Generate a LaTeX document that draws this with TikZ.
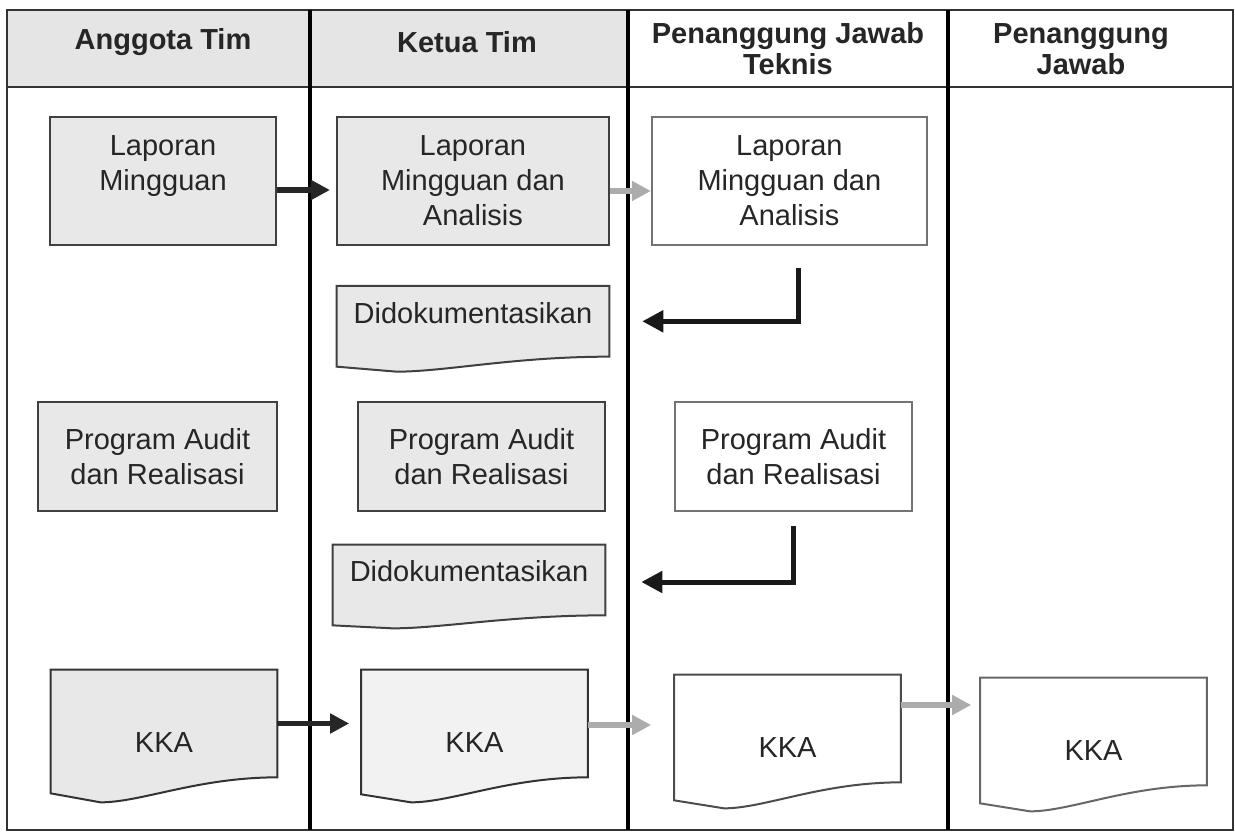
\documentclass[tikz,border=0pt]{standalone}
\usepackage{fontspec}
\setmainfont{Liberation Sans}
\usetikzlibrary{positioning, calc, arrows.meta, backgrounds}

% document symbol with a wavy foot, drawn behind its node
\newcommand{\docshape}[5]{%
  \begin{scope}[on background layer]
    \path[fill=#1, draw=#2, line width=0.04cm]
      (#3.north west) -- (#3.north east) -- (#3.south east)
      .. controls ($(#3.south east)!0.35!(#3.south west)$)
             and ($(#3.south east)!0.6!(#3.south west)+(0,#5)$) ..
      ($(#3.south east)!0.78!(#3.south west)+(0,#5)$)
      -- ($(#3.south west)+(0,#4)$) -- cycle;
  \end{scope}}

\begin{document}
\begin{tikzpicture}[
            x=0.02cm, y=-0.02cm,
            every node/.style={font=\fontsize{16.5}{20}\selectfont, text=black!85},
            head/.style={align=center, font=\fontsize{16.5}{17.5}\selectfont\bfseries},
            proc/.style={rectangle, draw=black!75, line width=0.04cm, align=center, minimum height=2.56cm, inner sep=2pt},
            procA/.style={proc, fill=gray!18},
            procT/.style={proc, draw=black!55, fill=white},
            dok/.style={rectangle, align=center, inner sep=2pt, minimum width=5.44cm, minimum height=1.4cm, text depth=0.35cm},
            kka/.style={rectangle, align=center, inner sep=2pt, minimum width=4.52cm, minimum height=2.14cm, text height=1.14cm, text depth=0cm},
            flow/.style={-{Triangle[length=0.38cm, width=0.38cm]}, line width=0.11cm, black!85},
            flowgray/.style={flow, gray!65},
            back/.style={-{Triangle[length=0.42cm, width=0.42cm]}, line width=0.1cm, black!90}
        ]
            \useasboundingbox (0,0) rectangle (1235,832);

            % --- Lanes ---
            \fill[gray!20] (7,10) rectangle (628,87);
            \draw[black!80, line width=0.04cm] (7,10) rectangle (1233,830);
            \draw[black!80, line width=0.04cm] (7,87) -- (1233,87);
            \foreach \lx in {310, 628, 948}
              \draw[black, line width=0.08cm] (\lx,10) -- (\lx,830);

            \node[head] (hAng) at (163,42) {Anggota Tim};
            \node[head] (hKet) at (467,42) {Ketua Tim};
            \node[head] (hPJT) at (788,49) {Penanggung Jawab\\Teknis};
            \node[head] (hPJ) at (1081,49) {Penanggung\\Jawab};

            % --- Weekly report ---
            \node[procA, minimum width=4.52cm] (lapA) at (163,181) {Laporan\\Mingguan\\\mbox{}};
            \node[procA, minimum width=5.44cm, right=1.18cm of lapA] (lapK) {Laporan\\Mingguan dan\\Analisis};
            \node[procT, minimum width=5.5cm, right=0.82cm of lapK] (lapT) {Laporan\\Mingguan dan\\Analisis};
            \node[dok, below=0.8cm of lapK] (dok1) {Didokumentasikan};
            \docshape{gray!18}{black!75}{dok1}{10}{15}

            % --- Audit programme ---
            \node[procA, minimum width=4.78cm, minimum height=2.18cm] (progA) at (157.5,456.5) {Program Audit\\dan Realisasi};
            \node[procA, minimum width=4.94cm, minimum height=2.18cm] (progK) at (481.5,456.5) {Program Audit\\dan Realisasi};
            \node[procT, minimum width=4.74cm, minimum height=2.18cm] (progT) at (793.5,456.5) {Program Audit\\dan Realisasi};
            \node[dok] (dok2) at (469,580) {Didokumentasikan};
            \docshape{gray!18}{black!75}{dok2}{10}{13}

            % --- Working papers ---
            \node[kka] (kkaA) at (164,723.5) {KKA};
            \node[kka] (kkaK) at (474.5,723.5) {KKA};
            \node[kka] (kkaT) at (787.5,728.5) {KKA};
            \node[kka] (kkaJ) at (1093.5,731.5) {KKA};
            \docshape{gray!18}{black!80}{kkaA}{16}{25}
            \docshape{gray!10}{black!80}{kkaK}{17}{25}
            \docshape{white}{black!70}{kkaT}{18}{26}
            \docshape{white}{black!60}{kkaJ}{18}{26}

            % --- Arrows ---
            \draw[flow, shorten >=0.12cm] ([yshift=-0.18cm]lapA.east) -- ([yshift=-0.18cm]lapK.west);
            \draw[flowgray] ([yshift=-0.2cm]lapK.east) -- ([yshift=-0.2cm]lapT.west);
            \draw[back, shorten <=0.44cm, shorten >=0.66cm] ([xshift=0.19cm]lapT.south) |- (dok1.east);
            \draw[back, shorten <=0.28cm, shorten >=0.72cm] (progT.south) |- ([yshift=-0.04cm]dok2.east);
            \draw[flow, shorten >=0.24cm] (kkaA.east) -- (kkaK.west);
            \draw[flowgray, shorten >=0.46cm] ([yshift=-0.03cm]kkaK.east) -- ([yshift=-0.03cm]kkaK.east -| kkaT.west);
            \draw[flowgray, shorten >=0.18cm] ([yshift=0.47cm]kkaT.east) -- ([yshift=0.47cm]kkaT.east -| kkaJ.west);
        \end{tikzpicture}
\end{document}
